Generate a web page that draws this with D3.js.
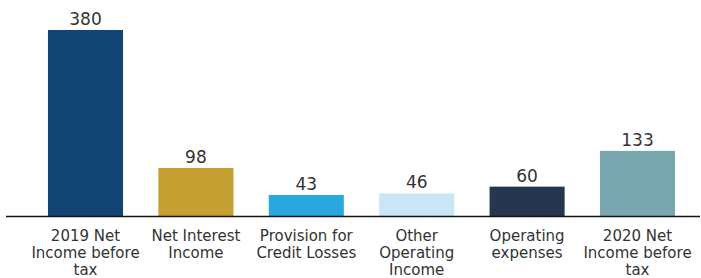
<!DOCTYPE html>
<html>
<head>
<meta charset="utf-8">
<script src="https://cdn.jsdelivr.net/npm/d3@7"></script>
<style>
  body { margin: 0; background: #fff; }
  svg text { font-family: "DejaVu Sans", Verdana, sans-serif; fill: #333; }
</style>
</head>
<body>
<div id="chart"></div>
<script>
const categories = [
    ["2019 Net", "Income before", "tax"],
    ["Net Interest", "Income"],
    ["Provision for", "Credit Losses"],
    ["Other", "Operating", "Income"],
    ["Operating", "expenses"],
    ["2020 Net", "Income before", "tax"]
];
const values = [380, 98, 43, 46, 60, 133];
const colors = ["#134574", "#c4a030", "#29a8e0", "#c8e6f6", "#27364f", "#7aa6b0"];

const width = 701, height = 278;
const baseY = 216;

const svg = d3.select("#chart").append("svg")
    .attr("width", width)
    .attr("height", height);

const x = d3.scaleBand()
    .domain(d3.range(values.length))
    .range([30.3, 692.7])
    .paddingInner(0.32)
    .paddingOuter(0.16);

const y = d3.scaleLinear()
    .domain([0, 380])
    .range([baseY, 30]);

svg.selectAll("rect.bar")
    .data(values)
    .enter().append("rect")
    .attr("class", "bar")
    .attr("x", (d, i) => x(i))
    .attr("y", d => y(d))
    .attr("width", x.bandwidth())
    .attr("height", d => baseY - y(d))
    .attr("fill", (d, i) => colors[i]);

svg.selectAll("text.value")
    .data(values)
    .enter().append("text")
    .attr("class", "value")
    .attr("x", (d, i) => x(i) + x.bandwidth() / 2)
    .attr("y", d => y(d) - 5)
    .attr("text-anchor", "middle")
    .attr("font-size", "17px")
    .text(d => d);

// baseline
svg.append("line")
    .attr("x1", 6)
    .attr("x2", 700)
    .attr("y1", baseY + 0.5)
    .attr("y2", baseY + 0.5)
    .attr("stroke", "#111")
    .attr("stroke-width", 1.5);

const labels = svg.selectAll("text.cat")
    .data(categories)
    .enter().append("text")
    .attr("class", "cat")
    .attr("text-anchor", "middle")
    .attr("font-size", "15px")
    .attr("transform", (d, i) => `translate(${x(i) + x.bandwidth() / 2},241)`);

labels.selectAll("tspan")
    .data(d => d)
    .enter().append("tspan")
    .attr("x", 0)
    .attr("y", (d, j) => j * 17)
    .text(d => d);
</script>
</body>
</html>
